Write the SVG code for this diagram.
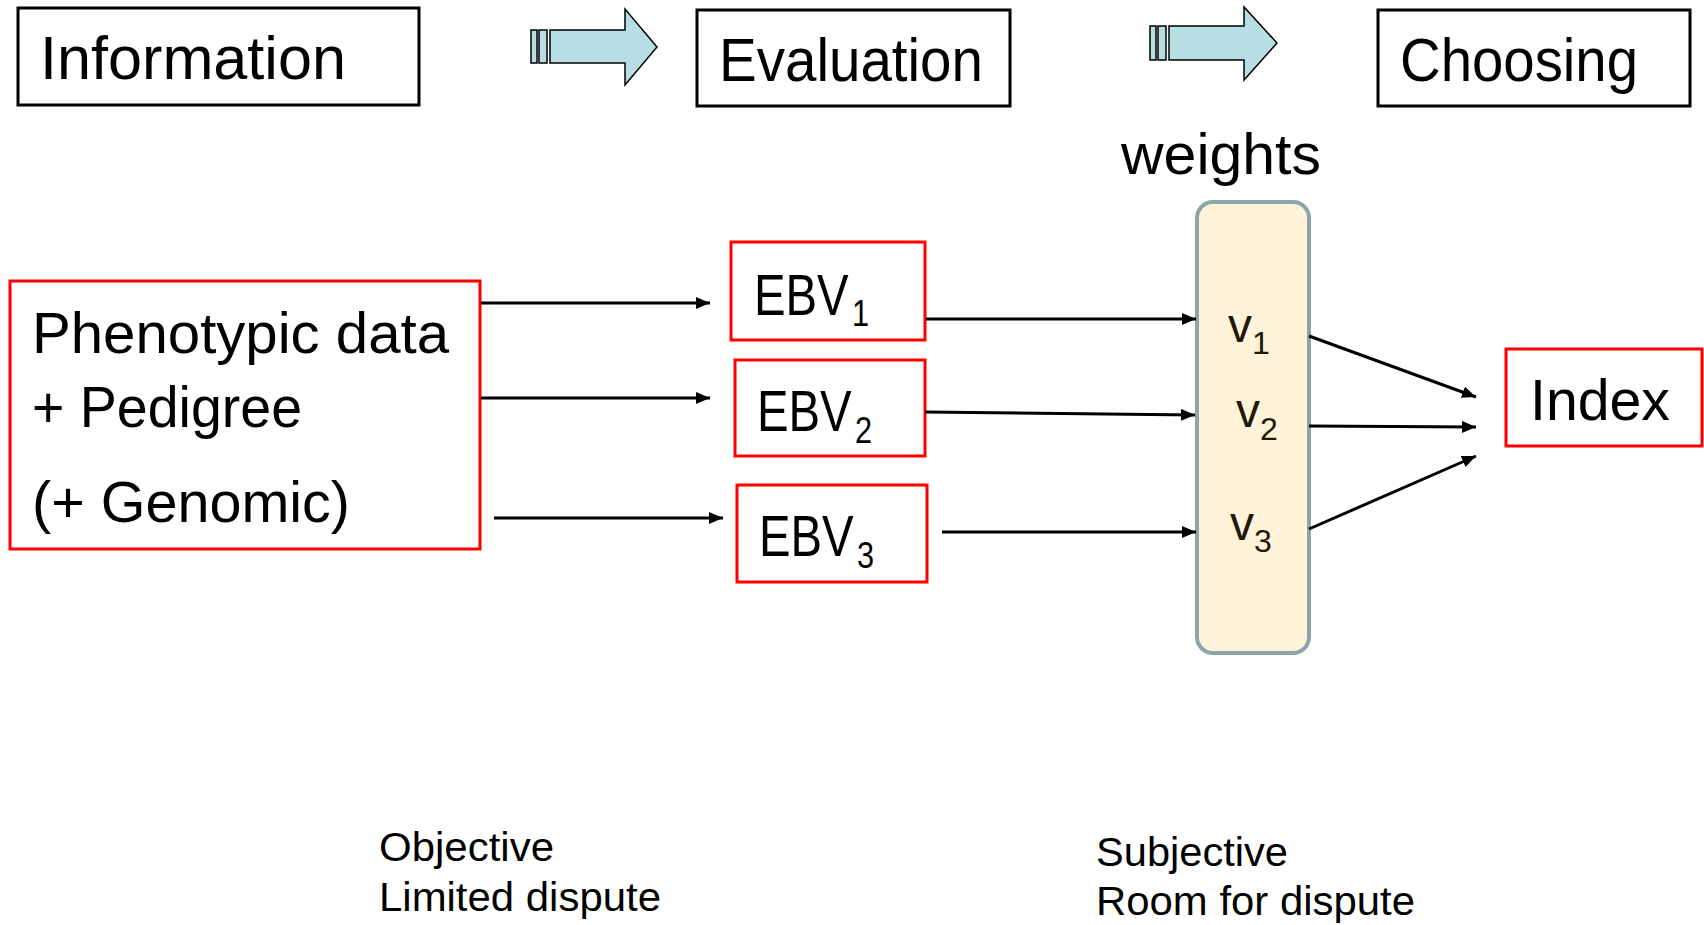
<svg xmlns="http://www.w3.org/2000/svg" width="1704" height="925" viewBox="0 0 1704 925">
<style>
.t{font-family:"Liberation Sans",Arial,sans-serif;fill:#000}
.hdr{fill:#fff;stroke:#000;stroke-width:3}
.red{fill:#fff;stroke:#ff0000;stroke-width:3}
.blk{fill:#b7dfe3;stroke:#000;stroke-width:1.5}
.con{stroke:#000;stroke-width:3;fill:none;marker-end:url(#ah)}
.v{font-family:"Liberation Sans",Arial,sans-serif;fill:#1f1906}
.note{font-family:"Liberation Sans",Arial,sans-serif;fill:#000;font-size:40px}
</style>
<defs>
<marker id="ah" markerUnits="userSpaceOnUse" markerWidth="16" markerHeight="14" refX="14" refY="6" orient="auto">
<path d="M0,0 L14,6 L0,12 Z" fill="#000"/>
</marker>
</defs>
<rect width="1704" height="925" fill="#fff"/>

<g id="information">
<rect class="hdr" x="18" y="8" width="401" height="97"/>
<text class="t" x="40" y="79" font-size="61" textLength="306" lengthAdjust="spacingAndGlyphs">Information</text>
</g>
<g id="step-arrow-1">
<rect class="blk" x="531" y="30" width="6" height="33"/>
<rect class="blk" x="539" y="30" width="8" height="33"/>
<path class="blk" d="M550,30 H625 V9 L657,47 L625,85 V63 H550 Z"/>
</g>
<g id="evaluation">
<rect class="hdr" x="697" y="10" width="313" height="96"/>
<text class="t" x="719" y="81" font-size="61" textLength="264" lengthAdjust="spacingAndGlyphs">Evaluation</text>
</g>
<g id="step-arrow-2">
<rect class="blk" x="1150" y="26" width="6" height="34"/>
<rect class="blk" x="1158" y="26" width="8" height="34"/>
<path class="blk" d="M1169,26 H1244 V7 L1277,43 L1244,80 V60 H1169 Z"/>
</g>
<g id="choosing">
<rect class="hdr" x="1378" y="10" width="312" height="96"/>
<text class="t" x="1400" y="81" font-size="61" textLength="238" lengthAdjust="spacingAndGlyphs">Choosing</text>
</g>

<g id="phenotypic">
<rect class="red" x="10" y="281" width="470" height="268"/>
<text class="t" x="32" y="353" font-size="57" textLength="417" lengthAdjust="spacingAndGlyphs">Phenotypic data</text>
<text class="t" x="32" y="427" font-size="57" textLength="270" lengthAdjust="spacingAndGlyphs">+ Pedigree</text>
<text class="t" x="32" y="522" font-size="57" textLength="318" lengthAdjust="spacingAndGlyphs">(+ Genomic)</text>
</g>

<g id="ebv1">
<rect class="red" x="731" y="242" width="194" height="98"/>
<text class="t" transform="translate(754,315) scale(0.83,1)" font-size="57">EBV<tspan font-size="37" dy="11" dx="4">1</tspan></text>
</g>
<g id="ebv2">
<rect class="red" x="735" y="360" width="190" height="96"/>
<text class="t" transform="translate(757,431) scale(0.83,1)" font-size="57">EBV<tspan font-size="37" dy="12" dx="4">2</tspan></text>
</g>
<g id="ebv3">
<rect class="red" x="737" y="485" width="190" height="97"/>
<text class="t" transform="translate(759,556) scale(0.83,1)" font-size="57">EBV<tspan font-size="37" dy="12" dx="4">3</tspan></text>
</g>

<g id="weights">
<text class="t" x="1121" y="174" font-size="58" textLength="200" lengthAdjust="spacingAndGlyphs">weights</text>
<rect x="1197" y="202" width="112" height="451" rx="16" ry="16" fill="#fff4da" stroke="#8ca5a8" stroke-width="4"/>
<text class="v" x="1228" y="342" font-size="48">v<tspan font-size="32" dy="12">1</tspan></text>
<text class="v" x="1236" y="427" font-size="48">v<tspan font-size="32" dy="13">2</tspan></text>
<text class="v" x="1230" y="540" font-size="48">v<tspan font-size="32" dy="12">3</tspan></text>
</g>

<g id="index">
<rect class="red" x="1506" y="349" width="196" height="97"/>
<text class="t" x="1530" y="420" font-size="57" textLength="140" lengthAdjust="spacingAndGlyphs">Index</text>
</g>

<g id="connectors">
<line class="con" x1="481" y1="303" x2="710" y2="303"/>
<line class="con" x1="481" y1="398" x2="710" y2="398"/>
<line class="con" x1="494" y1="518" x2="723" y2="518"/>
<line class="con" x1="926" y1="319" x2="1196" y2="319"/>
<line class="con" x1="925" y1="412" x2="1195" y2="415"/>
<line class="con" x1="942" y1="532" x2="1196" y2="532"/>
<line class="con" x1="1309" y1="336" x2="1476" y2="397"/>
<line class="con" x1="1309" y1="426" x2="1476" y2="427"/>
<line class="con" x1="1309" y1="529" x2="1476" y2="456"/>
</g>

<g id="notes">
<text class="note" x="379" y="861" textLength="175" lengthAdjust="spacingAndGlyphs">Objective</text>
<text class="note" x="379" y="911" textLength="282" lengthAdjust="spacingAndGlyphs">Limited dispute</text>
<text class="note" x="1096" y="866" textLength="192" lengthAdjust="spacingAndGlyphs">Subjective</text>
<text class="note" x="1096" y="915" textLength="319" lengthAdjust="spacingAndGlyphs">Room for dispute</text>
</g>
</svg>
